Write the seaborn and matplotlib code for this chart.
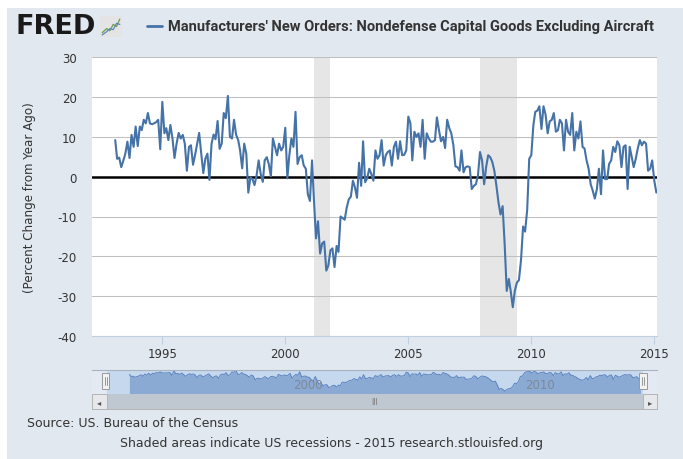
import pandas as pd
import seaborn as sns
import matplotlib.pyplot as plt
from matplotlib import font_manager
from matplotlib.patches import Rectangle
from matplotlib.lines import Line2D
import matplotlib.transforms as mtrans

# Percent change from year ago, monthly, starting Feb 1993
start_month = "1993-02-01"
pct_1993_1997 = [9.2, 4.5, 4.8, 2.4, 4.0, 5.8, 8.8, 4.7, 10.5, 7.5,
                 12.6, 7.7, 12.6, 11.7, 14.3, 13.4, 16.0, 13.4, 13.2, 13.4,
                 13.7, 14.3, 6.9, 18.8, 10.9, 12.2, 9.2, 13.0, 9.6, 4.7,
                 8.3, 11.0, 9.6, 10.5, 8.3, 1.5, 7.5, 7.9, 3.0, 5.4,
                 8.3, 11.0, 5.8, 0.9, 4.5, 5.8, -0.8, 8.3, 10.6, 9.4,
                 14.0, 7.0, 8.3, 16.0]
pct_1997_2001 = [14.7, 20.3, 10.0, 9.6, 14.3, 10.5, 9.2, 6.6, 2.1, 8.3,
                 5.8, -4.0, -0.2, -0.6, -2.1, 0.3, 4.1, 0.7, -1.3, 4.1,
                 4.9, 3.2, 0.1, 9.6, 7.5, 5.4, 8.3, 6.6, 7.5, 12.3,
                 -0.4, 5.4, 9.6, 7.5, 16.3, 3.2, 4.9, 5.4, 2.8, 2.0,
                 -4.4, -6.1, 4.1, -5.7, -15.5, -11.2, -19.3, -16.8, -16.3, -23.6,
                 -22.3, -18.5, -18.0, -22.7]
pct_2002_2006 = [-17.4, -18.9, -10.0, -10.4, -10.8, -7.8, -5.7, -5.0, -1.0, -2.7,
                 -5.3, 3.5, -2.3, 8.9, -1.4, -0.4, 2.0, 0.7, -1.0, 6.6,
                 4.5, 5.4, 9.2, 2.8, 5.4, 6.2, 6.6, 2.8, 7.5, 8.8,
                 4.5, 8.9, 5.4, 5.5, 6.6, 15.1, 13.4, 4.1, 11.3, 10.0,
                 10.9, 7.5, 14.3, 4.5, 10.9, 9.6, 8.8, 8.8, 9.2, 14.9,
                 11.7, 8.9, 10.0]
pct_2006_2010 = [7.2, 14.3, 12.2, 10.9, 7.9, 2.6, 2.4, 1.5, 6.6, 1.1,
                 2.4, 2.6, 2.4, -3.1, -2.3, -1.9, 0.3, 6.2, 4.1, -1.9,
                 2.4, 5.4, 4.9, 3.7, 1.5, -2.3, -6.5, -9.5, -7.4, -16.8,
                 -28.7, -25.7, -28.7, -32.8, -28.7, -26.6, -26.0, -21.0, -12.5, -13.8,
                 -8.3, 4.5, 5.4, 13.0, 16.3, 16.6, 17.7, 12.0, 17.7, 15.6,
                 10.9, 13.9, 14.3, 16.0]
pct_2010_2015 = [11.3, 11.7, 14.3, 13.4, 6.6, 14.3, 11.3, 10.5, 16.0, 6.6,
                 11.3, 9.6, 13.9, 7.5, 7.1, 4.1, 2.0, -1.9, -3.5, -5.5,
                 -3.1, 2.0, -4.4, 6.6, -0.6, -0.6, 3.2, 4.1, 7.5, 6.2,
                 8.9, 7.9, 2.4, 7.5, 7.9, -3.1, 7.5, 4.9, 2.4, 4.5,
                 7.1, 9.2, 7.9, 8.8, 8.3, 1.5, 2.0, 4.1, -1.0, -4.0]

recessions = [("2001-03-01", "2001-11-01"), ("2007-12-01", "2009-06-01")]
x_tick_years = [1995, 2000, 2005, 2010, 2015]
y_ticks = [30, 20, 10, 0, -10, -20, -30, -40]
nav_label_years = [2000, 2010]

title = "Manufacturers' New Orders: Nondefense Capital Goods Excluding Aircraft"
y_title = "(Percent Change from Year Ago)"
source = "Source: US. Bureau of the Census"
footer = "Shaded areas indicate US recessions - 2015 research.stlouisfed.org"

values = pct_1993_1997 + pct_1997_2001 + pct_2002_2006 + pct_2006_2010 + pct_2010_2015
df = pd.DataFrame({"date": pd.date_range(start_month, periods=len(values), freq="MS"),
                   "value": values})

W, H = 683, 460
BG = "#E1E8F0"
TXT = "#333333"
LINE = "#4572A7"

sns.set_theme(style="white")
plt.rcParams["font.family"] = ["DejaVu Sans"]

installed = {f.name for f in font_manager.fontManager.ttflist}
title_font = "Liberation Sans Narrow" if "Liberation Sans Narrow" in installed else "Roboto"

fig = plt.figure(figsize=(W / 100, H / 100), dpi=100, facecolor="white")


def box(x0, y0, x1, y1):
    # pixel box measured from top-left -> figure fraction rect
    return [x0 / W, 1 - y1 / H, (x1 - x0) / W, (y1 - y0) / H]


def rect(x0, y0, x1, y1, **kw):
    l, b, w, h = box(x0, y0, x1, y1)
    p = Rectangle((l, b), w, h, transform=fig.transFigure, **kw)
    fig.patches.append(p)
    return p


rect(7, 9, W, H, facecolor=BG, edgecolor="none", zorder=-10)

# main chart
ax = fig.add_axes(box(92, 58.3, 656.7, 336.9))
ax.set_facecolor("white")
for a, b in recessions:
    ax.axvspan(pd.Timestamp(a), pd.Timestamp(b), color="#E6E6E6", lw=0, zorder=0.2)
ax.axhline(0, color="black", lw=1.8, zorder=2)
sns.lineplot(data=df, x="date", y="value", ax=ax, color=LINE, lw=1.5, zorder=3, legend=False)
ax.set_ylim(-40, 30)
ax.set_xlim(pd.Timestamp("1992-02-22"), pd.Timestamp("2015-02-06"))
ax.set_yticks(y_ticks)
ax.set_yticklabels([str(v) for v in y_ticks])
ax.set_xticks([pd.Timestamp(f"{y}-01-01") for y in x_tick_years])
ax.set_xticklabels([str(y) for y in x_tick_years])
ax.set_xlabel("")
ax.set_ylabel("")
ax.set_axisbelow(True)
ax.grid(axis="y", color="#C0C0C0", lw=0.75)
ax.grid(axis="x", visible=False)
for s in ["top", "left", "right"]:
    ax.spines[s].set_visible(False)
ax.spines["bottom"].set_color("#C0D0E0")
ax.spines["bottom"].set_linewidth(0.8)
ax.tick_params(axis="x", length=5.8, width=0.8, color="#C0D0E0", pad=2.2,
               labelsize=8.5, labelcolor=TXT, bottom=True)
ax.tick_params(axis="y", length=0, pad=11, labelsize=8.5, labelcolor=TXT)

fig.text(30 / W, 1 - 197.5 / H, y_title, rotation=90, ha="center", va="center",
         fontsize=8.6, color=TXT)

# navigator
sel_left, sel_right = pd.Timestamp("1992-02-22"), pd.Timestamp("2015-03-10")
nav_left, nav_right = pd.Timestamp("1991-06-24"), pd.Timestamp("2015-10-18")
nav = fig.add_axes(box(92, 370.5, 657, 395))
nav.set_facecolor("#C6D8EE")
nav.set_xlim(nav_left, nav_right)
nav.set_ylim(-40, 22)
nav.axvspan(nav_left, sel_left, color="#E3EAF3", lw=0, zorder=0.1)
nav.axvspan(sel_right, nav_right, color="#E3EAF3", lw=0, zorder=0.1)
nav.fill_between(df["date"], df["value"], -40, color="#8AAAD3", lw=0, zorder=1)
sns.lineplot(data=df, x="date", y="value", ax=nav, color="#5B84BF", lw=0.7, zorder=2, legend=False)
nav.set_xticks([])
nav.set_yticks([])
nav.set_xlabel("")
nav.set_ylabel("")
for s in ["bottom", "left", "right"]:
    nav.spines[s].set_visible(False)
nav.spines["top"].set_color("#A9B3C0")
nav.spines["top"].set_linewidth(0.8)
for yr in nav_label_years:
    tr = mtrans.offset_copy(nav.get_xaxis_transform(), fig=fig, x=3, y=0, units="dots")
    nav.text(pd.Timestamp(f"{yr}-01-01"), 0.37, str(yr), transform=tr, ha="left", va="center",
             fontsize=8.5, color="#7E8899", zorder=3)

# navigator handles
for hx in [105.5, 643]:
    rect(hx - 3.8, 374, hx + 3.8, 390, facecolor="#F2F2F2", edgecolor="#999999", lw=0.7, zorder=5)
    for dx in [-1.0, 1.0]:
        fig.lines.append(Line2D([(hx + dx) / W] * 2, [1 - 378 / H, 1 - 386 / H],
                                transform=fig.transFigure, color="#888888", lw=0.6, zorder=6))

# scrollbar
rect(92, 395, 657, 410, facecolor="#EEEEEE", edgecolor="#B5B5B5", lw=0.7, zorder=4)
rect(107, 395, 643, 410, facecolor="#BFC7D1", edgecolor="none", zorder=4.5)
rect(92, 395, 107, 410, facecolor="#E6E8EC", edgecolor="#B5B5B5", lw=0.7, zorder=4.6)
rect(643, 395, 657, 410, facecolor="#E6E8EC", edgecolor="#B5B5B5", lw=0.7, zorder=4.6)
fig.text(99.5 / W, 1 - 402.5 / H, "\u25c2", ha="center", va="center", fontsize=6, color="#555555", zorder=7)
fig.text(650 / W, 1 - 402.5 / H, "\u25b8", ha="center", va="center", fontsize=6, color="#555555", zorder=7)
fig.text(375 / W, 1 - 402.5 / H, "III", ha="center", va="center", fontsize=5.5, color="#777777", zorder=7)

# header: FRED logo + series legend
fig.text(16 / W, 1 - 27.5 / H, "FRED", fontsize=19.5, fontweight="heavy", color="#1A1A1A",
         va="center", ha="left")
logo = fig.add_axes(box(100, 17, 122, 38))
logo.set_facecolor("#E4E4E4")
logo.set_xlim(0, 10)
logo.set_ylim(0, 10)
logo.plot([1, 3, 4.5, 6, 7.5, 9], [2, 4, 3, 6, 5, 8.5], color="#6E9E4A", lw=0.9)
logo.plot([1, 3, 4.5, 6, 7.5, 9], [1, 2.5, 4, 3.5, 6.5, 6], color="#5B84BF", lw=0.9)
logo.set_xticks([])
logo.set_yticks([])
for s in logo.spines.values():
    s.set_visible(False)

fig.lines.append(Line2D([147 / W, 162 / W], [1 - 27 / H] * 2, transform=fig.transFigure,
                        color=LINE, lw=2))
t = fig.text(168 / W, 1 - 27 / H, title, fontsize=10, fontweight="bold", family=title_font,
             color=TXT, va="center", ha="left")
renderer = fig.canvas.get_renderer()
t.set_fontsize(10 * 487 / t.get_window_extent(renderer).width)

# footer
fig.text(27 / W, 1 - 424 / H, source, fontsize=9, color=TXT, va="center", ha="left")
fig.text(332 / W, 1 - 444 / H, footer, fontsize=9, color=TXT, va="center", ha="center")

fig.savefig("out.png", dpi=100, facecolor=fig.get_facecolor())
